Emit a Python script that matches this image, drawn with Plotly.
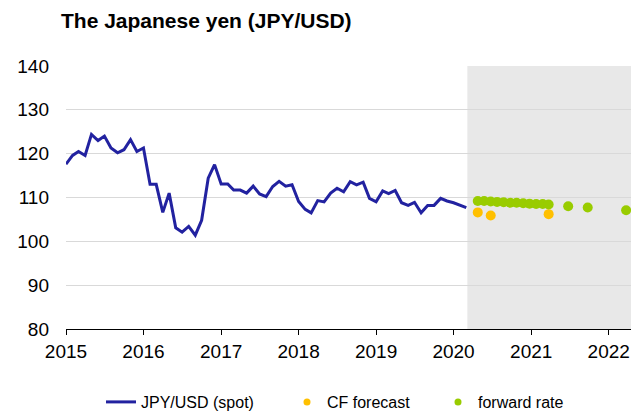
import plotly.graph_objects as go

# ---- data ----
spot_dates = [f"{y}-{m:02d}-01" for y in range(2015, 2021) for m in range(1, 13)][:63]
spot_values = [
    117.6, 119.6, 120.5, 119.6, 124.4, 123.0, 124.0, 121.3, 120.2, 120.9, 123.2, 120.5,
    121.3, 113.0, 113.0, 106.6, 111.0, 103.1, 102.1, 103.4, 101.4, 104.8, 114.4, 117.5,
    113.1, 113.1, 111.7, 111.7, 111.0, 112.6, 110.8, 110.2, 112.5, 113.7, 112.6, 112.9,
    109.1, 107.3, 106.5, 109.3, 109.0, 111.0, 112.1, 111.3, 113.6, 112.9, 113.5, 109.8,
    109.0, 111.5, 110.9, 111.6, 108.8, 108.2, 108.9, 106.5, 108.2, 108.2, 109.8, 109.2,
    108.8, 108.3, 107.7,
]

cf_dates = ["2020-04-24", "2020-06-24", "2021-03-24"]
cf_values = [106.6, 105.9, 106.2]

fwd_dates = ["2020-04-24", "2020-05-24", "2020-06-24", "2020-07-24", "2020-08-24",
             "2020-09-24", "2020-10-24", "2020-11-24", "2020-12-24", "2021-01-24",
             "2021-02-24", "2021-03-24", "2021-06-24", "2021-09-24", "2022-03-24"]
fwd_values = [109.2, 109.2, 109.1, 109.0, 108.9, 108.8, 108.8, 108.7, 108.6, 108.5,
              108.5, 108.4, 108.0, 107.7, 107.1]

forecast_start = "2020-03-06"
x_start, x_end = "2015-01-01", "2022-04-16"
y_ticks = [80, 90, 100, 110, 120, 130, 140]

# ---- styles ----
BLUE = "#2222A0"
ORANGE = "#FFC000"
GREEN = "#99CC00"
FONT = "Liberation Sans, Arial, sans-serif"
# the page body has an 8px margin, so the figure is sized to fit the window
W, H = 633, 404

fig = go.Figure()
fig.add_trace(go.Scatter(x=spot_dates, y=spot_values, mode="lines",
                         line=dict(color=BLUE, width=3), showlegend=False))
fig.add_trace(go.Scatter(x=cf_dates, y=cf_values, mode="markers",
                         marker=dict(color=ORANGE, size=10), showlegend=False))
fig.add_trace(go.Scatter(x=fwd_dates, y=fwd_values, mode="markers",
                         marker=dict(color=GREEN, size=10), showlegend=False))

# legend-only entries (smaller symbols, as in the reference)
fig.add_trace(go.Scatter(x=[None], y=[None], mode="lines", name="JPY/USD (spot)",
                         line=dict(color=BLUE, width=3), legend="legend"))
fig.add_trace(go.Scatter(x=[None], y=[None], mode="markers", name="CF forecast",
                         marker=dict(color=ORANGE, size=7), legend="legend2"))
fig.add_trace(go.Scatter(x=[None], y=[None], mode="markers", name="forward rate",
                         marker=dict(color=GREEN, size=7), legend="legend3"))

fig.add_shape(type="rect", xref="x", yref="paper", x0=forecast_start, x1=x_end,
              y0=0, y1=1, fillcolor="#E8E8E8", line=dict(width=0), layer="below")

leg_common = dict(orientation="h", xref="container", yref="container",
                  yanchor="middle", y=1 - 394 / H, xanchor="left",
                  font=dict(family=FONT, size=16, color="#000000"),
                  bgcolor="rgba(0,0,0,0)")

fig.update_layout(
    width=W, height=H,
    margin=dict(l=58, r=10, t=58, b=83, autoexpand=False),
    paper_bgcolor="white", plot_bgcolor="white",
    font=dict(family=FONT, color="#000000"),
    title=dict(text="The Japanese yen (JPY/USD)", x=53 / W, xanchor="left",
               y=1 - 13 / H, yanchor="middle",
               font=dict(family=FONT, size=21, weight="bold", color="#000000")),
    xaxis=dict(type="date", range=[x_start, x_end], tick0="2015-01-01", dtick="M12",
               tickformat="%Y", showgrid=False, showline=True, linecolor="#000000",
               linewidth=1, ticks="outside", ticklen=5, tickcolor="#000000",
               tickfont=dict(family=FONT, size=19), ticklabelstandoff=0,
               zeroline=False, automargin=False),
    yaxis=dict(range=[80, 140], tickvals=y_ticks, showgrid=True, gridcolor="#D9D9D9",
               gridwidth=1.3, showline=False, zeroline=False, ticks="",
               tickfont=dict(family=FONT, size=19), ticklabelstandoff=16,
               automargin=False),
    legend=dict(x=93 / W, **leg_common),
    legend2=dict(x=279 / W, **leg_common),
    legend3=dict(x=430 / W, **leg_common),
)

fig.write_html("out.html")
